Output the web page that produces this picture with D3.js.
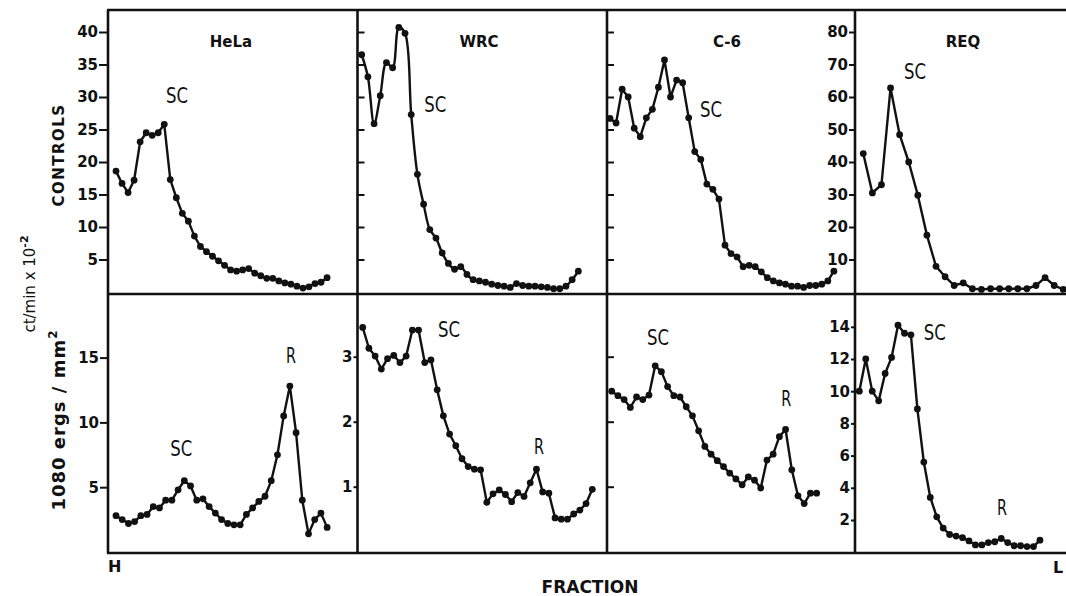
<!DOCTYPE html>
<html>
<head>
<meta charset="utf-8">
<script src="https://cdn.jsdelivr.net/npm/d3@7"></script>
<style>
  body { margin: 0; background: #fff; }
  text { font-family: "DejaVu Sans", sans-serif; fill: #111; }
  .peak { font-family: "Liberation Sans Narrow", "DejaVu Sans Condensed", sans-serif; font-weight: normal; }
  .tick text { font-family: "DejaVu Sans", sans-serif; font-weight: bold; font-size: 15px; }
</style>
</head>
<body>
<script>
// cell lines, one column each
const cellLines = ["HeLa", "WRC", "C-6", "REQ"];

// top row: controls, ct/min x 10^-2, one value per fraction
const controlsHeLa = [18.6, 16.7, 15.3, 17.2, 23.1, 24.5, 24.1, 24.5, 25.8, 17.3, 14.5, 12.1, 10.9, 8.6, 7.0, 6.2, 5.5, 4.8, 4.1, 3.4, 3.2, 3.4, 3.6, 2.9, 2.5, 2.1, 2.1, 1.7, 1.4, 1.2, 0.9, 0.6, 0.8, 1.3, 1.5, 2.2];
const controlsWRC = [36.5, 33.1, 25.9, 30.2, 35.3, 34.5, 40.7, 39.8, 27.3, 18.1, 13.5, 9.6, 8.3, 6.0, 4.4, 3.5, 3.9, 2.7, 1.9, 1.7, 1.5, 1.2, 1.0, 0.9, 0.7, 1.3, 1.0, 0.9, 0.9, 0.8, 0.7, 0.5, 0.5, 0.9, 1.9, 3.2];
const controlsC6 = [26.7, 26.0, 31.2, 30.0, 25.2, 23.9, 26.8, 28.1, 31.5, 35.7, 30.0, 32.6, 32.2, 26.8, 21.6, 20.4, 16.6, 15.8, 14.3, 7.2, 5.9, 5.4, 3.9, 4.1, 3.9, 3.1, 2.2, 1.7, 1.4, 1.2, 0.9, 0.9, 0.7, 1.0, 1.0, 1.2, 1.7, 3.2];
const controlsREQ = [42.6, 30.5, 33.0, 62.8, 48.4, 40.0, 29.8, 17.5, 7.9, 4.7, 2.0, 2.8, 1.0, 0.8, 1.0, 1.0, 1.0, 1.0, 1.0, 2.0, 4.4, 2.0, 0.8];

// bottom row: 1080 ergs/mm2
const irradHeLa = [2.8, 2.5, 2.2, 2.35, 2.8, 2.9, 3.5, 3.4, 4.0, 4.0, 4.8, 5.5, 5.1, 4.0, 4.1, 3.5, 3.0, 2.5, 2.2, 2.1, 2.1, 2.9, 3.4, 3.9, 4.3, 5.5, 7.5, 10.5, 12.8, 9.2, 4.0, 1.4, 2.5, 3.0, 1.9];
const irradWRC = [3.45, 3.13, 3.01, 2.81, 2.97, 3.02, 2.91, 3.01, 3.41, 3.41, 2.91, 2.95, 2.49, 2.09, 1.81, 1.63, 1.43, 1.31, 1.27, 1.26, 0.76, 0.89, 0.95, 0.88, 0.77, 0.91, 0.85, 1.06, 1.27, 0.92, 0.90, 0.52, 0.50, 0.50, 0.58, 0.64, 0.74, 0.96];
const irradC6 = [2.47, 2.40, 2.34, 2.22, 2.38, 2.34, 2.41, 2.86, 2.77, 2.54, 2.40, 2.38, 2.23, 2.09, 1.86, 1.62, 1.50, 1.40, 1.31, 1.21, 1.12, 1.03, 1.15, 1.10, 0.98, 1.41, 1.50, 1.77, 1.88, 1.26, 0.86, 0.74, 0.90, 0.90];
const irradREQ = [10.0, 12.0, 10.0, 9.4, 11.1, 12.1, 14.1, 13.6, 13.5, 8.9, 5.6, 3.4, 2.2, 1.5, 1.1, 1.0, 0.9, 0.7, 0.45, 0.45, 0.6, 0.65, 0.85, 0.6, 0.4, 0.4, 0.35, 0.35, 0.75];

// fraction range seen across each panel (top row, bottom row)
const fractionDomainsTop = [[-0.33, 41.05], [0.32, 40.63], [0.5, 41.49], [0.09, 27.48]];
const fractionDomainsBottom = [[-0.29, 39.89], [0.16, 40.37], [0.24, 40.18], [0.33, 38.93]];

// tick labels
const ticksControls = [5, 10, 15, 20, 25, 30, 35, 40];
const ticksControlsREQ = [10, 20, 30, 40, 50, 60, 70, 80];
const ticksIrradHeLa = [5, 10, 15];
const ticksIrradWRC = [1, 2, 3];
const ticksIrradREQ = [2, 4, 6, 8, 10, 12, 14];

// peak labels: [row, col, text, fraction, value]
const peakLabels = [
  [0, 0, "SC", 11.1, 29.1],
  [0, 1, "SC", 12.9, 27.7],
  [0, 2, "SC", 17.7, 26.9],
  [0, 3, "SC", 6.7, 65.5],
  [1, 0, "SC", 11.5, 7.4],
  [1, 0, "R", 29.2, 14.6],
  [1, 1, "SC", 14.9, 3.30],
  [1, 1, "R", 29.4, 1.51],
  [1, 2, "SC", 8.45, 3.18],
  [1, 2, "R", 29.1, 2.24],
  [1, 3, "SC", 12.7, 13.2],
  [1, 3, "R", 23.1, 2.3]
];

const w = 1066;
const h = 596;
const colX = [108, 357.5, 607, 855, 1104];
const rowY = [10, 294, 553];

const svg = d3.select("body").append("svg").attr("width", w).attr("height", h);

// y scales
const yCtrl = d3.scaleLinear().domain([0, 40]).range([292, 32]);
const yCtrlREQ = d3.scaleLinear().domain([0, 80]).range([292, 32]);
const yIrrHeLa = d3.scaleLinear().domain([0, 15]).range([552, 357.6]);
const yIrrWRC = d3.scaleLinear().domain([0, 3]).range([551.7, 356.7]);
const yIrrREQ = d3.scaleLinear().domain([0, 14]).range([552.2, 326.8]);

const topY = [yCtrl, yCtrl, yCtrl, yCtrlREQ];
const bottomY = [yIrrHeLa, yIrrWRC, yIrrWRC, yIrrREQ];
const topData = [controlsHeLa, controlsWRC, controlsC6, controlsREQ];
const bottomData = [irradHeLa, irradWRC, irradC6, irradREQ];

const panels = [];
cellLines.forEach((name, c) => {
  panels.push({ row: 0, col: c, values: topData[c], y: topY[c], dom: fractionDomainsTop[c] });
  panels.push({ row: 1, col: c, values: bottomData[c], y: bottomY[c], dom: fractionDomainsBottom[c] });
});
panels.forEach(p => {
  p.x = d3.scaleLinear().domain(p.dom).range([colX[p.col], colX[p.col + 1]]);
});

svg.append("clipPath").attr("id", "clip")
  .append("rect").attr("x", 0).attr("y", 0).attr("width", w).attr("height", h);

const plot = svg.append("g").attr("clip-path", "url(#clip)");

// series
panels.forEach(p => {
  const pts = p.values.map((v, i) => [p.x(i + 1), p.y(v)]);
  const line = d3.line()
    .curve(p.row === 0 && p.col === 1 ? d3.curveCatmullRom.alpha(0.5) : d3.curveLinear);
  plot.append("path")
    .attr("d", line(pts))
    .attr("fill", "none")
    .attr("stroke", "#111")
    .attr("stroke-width", 2.4)
    .attr("stroke-linejoin", "round");
  plot.selectAll(null)
    .data(pts)
    .join("circle")
    .attr("cx", d => d[0])
    .attr("cy", d => d[1])
    .attr("r", 3.4)
    .attr("fill", "#111");
});

// frame
const frame = svg.append("g").attr("stroke", "#111").attr("stroke-width", 2.6);
rowY.forEach(yv => {
  frame.append("line").attr("x1", colX[0] - 1).attr("x2", w).attr("y1", yv).attr("y2", yv);
});
colX.slice(0, 4).forEach(xv => {
  frame.append("line").attr("x1", xv).attr("x2", xv).attr("y1", rowY[0]).attr("y2", rowY[2]);
});

// axes
function addAxis(axis, xPos, labelled) {
  const g = svg.append("g").attr("transform", `translate(${xPos},0)`).call(axis.tickFormat(d => d));
  g.select(".domain").remove();
  g.selectAll(".tick line").attr("stroke", "#111").attr("stroke-width", 2);
  if (!labelled) g.selectAll(".tick text").remove();
  return g;
}

addAxis(d3.axisLeft(yCtrl).tickValues(ticksControls).tickSize(9).tickPadding(1), colX[0], true);
addAxis(d3.axisRight(yCtrl).tickValues(ticksControls).tickSize(7), colX[1], false);
addAxis(d3.axisRight(yCtrl).tickValues(ticksControls).tickSize(7), colX[2], false);
addAxis(d3.axisLeft(yCtrlREQ).tickValues(ticksControlsREQ).tickSize(6).tickPadding(1), colX[3], true);

addAxis(d3.axisLeft(yIrrHeLa).tickValues(ticksIrradHeLa).tickSize(8).tickPadding(1), colX[0], true);
addAxis(d3.axisLeft(yIrrWRC).tickValues(ticksIrradWRC).tickSize(4).tickPadding(1), colX[1], true);
addAxis(d3.axisRight(yIrrWRC).tickValues(ticksIrradWRC).tickSize(7), colX[2], false);
addAxis(d3.axisLeft(yIrrREQ).tickValues(ticksIrradREQ).tickSize(4).tickPadding(1), colX[3], true);

// panel titles
svg.selectAll(null)
  .data(cellLines)
  .join("text")
  .attr("x", (d, i) => [231, 479, 727, 963][i])
  .attr("y", 47)
  .attr("text-anchor", "middle")
  .attr("font-weight", "bold")
  .attr("font-size", 15)
  .text(d => d);

// SC / R labels
peakLabels.forEach(([r, c, t, f, v]) => {
  const p = panels.find(q => q.row === r && q.col === c);
  svg.append("text")
    .attr("class", "peak")
    .attr("x", p.x(f))
    .attr("y", p.y(v))
    .attr("text-anchor", "middle")
    .attr("font-size", 21)
    .attr("textLength", t === "SC" ? 22 : 10)
    .attr("lengthAdjust", "spacingAndGlyphs")
    .text(t);
});

// axis titles
svg.append("text")
  .attr("transform", "translate(64,155) rotate(-90)")
  .attr("text-anchor", "middle")
  .attr("font-weight", "bold")
  .attr("font-size", 15)
  .attr("letter-spacing", 1.5)
  .text("CONTROLS");

const ct = svg.append("text")
  .attr("transform", "translate(35,284) rotate(-90)")
  .attr("text-anchor", "middle")
  .attr("font-size", 15);
ct.append("tspan").text("ct/min   x   10");
ct.append("tspan").attr("dy", -7).attr("font-size", 11).attr("font-weight", "bold").text("-2");

const erg = svg.append("text")
  .attr("transform", "translate(65,420) rotate(-90)")
  .attr("text-anchor", "middle")
  .attr("font-weight", "bold")
  .attr("font-size", 18)
  .attr("letter-spacing", 1);
erg.append("tspan").text("1080   ergs / mm");
erg.append("tspan").attr("dy", -8).attr("font-size", 12).text("2");

svg.append("text")
  .attr("x", 108).attr("y", 572)
  .attr("font-weight", "bold").attr("font-size", 16)
  .text("H");

svg.append("text")
  .attr("x", 1053).attr("y", 573)
  .attr("font-weight", "bold").attr("font-size", 16)
  .text("L");

svg.append("text")
  .attr("x", 590).attr("y", 593)
  .attr("text-anchor", "middle")
  .attr("font-weight", "bold")
  .attr("font-size", 17)
  .text("FRACTION");
</script>
</body>
</html>
